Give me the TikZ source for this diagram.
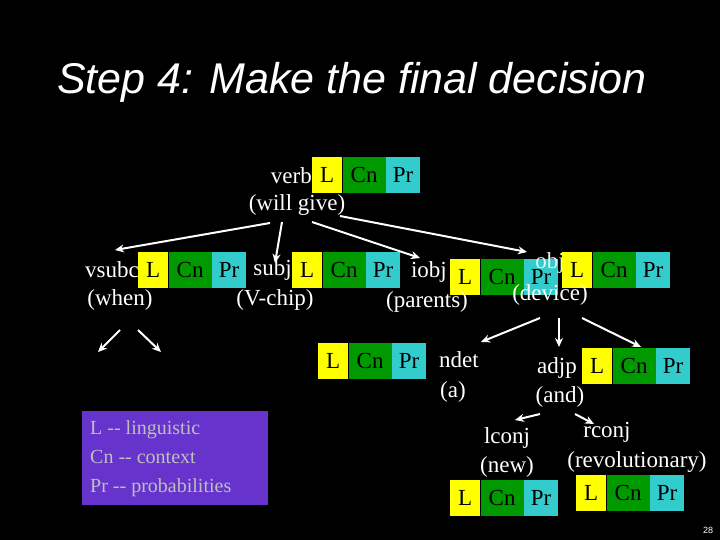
\documentclass[tikz,border=0pt]{standalone}
\usepackage{fontspec}
\setmainfont{Liberation Serif}
\newfontfamily\arialf{Liberation Sans}
\usetikzlibrary{arrows.meta}
\definecolor{cy}{HTML}{33CCCC}
\definecolor{gr}{HTML}{009900}
\definecolor{yl}{HTML}{FFFF00}
\definecolor{pu}{HTML}{6633CC}
\tikzset{
 tx/.style={text=white,font=\fontsize{23}{26}\selectfont,inner sep=0pt},
 cb/.style={font=\fontsize{23}{26}\selectfont,inner sep=0pt,minimum height=36pt,anchor=west,text=black},
 arr/.style={white,line width=2pt,-{Stealth[length=9pt,width=8pt]}},
}
\newcommand{\blk}[3]{%
 \node[cb,fill=yl,minimum width=30pt] (#1L) at (#2,#3) {L};
 \node[cb,fill=gr,minimum width=43pt] (#1C) at (#1L.east) {Cn};
 \node[cb,fill=cy,minimum width=34pt] (#1P) at (#1C.east) {Pr};}
\begin{document}
\begin{tikzpicture}[x=1pt,y=-1pt]
\fill[black] (0,0) rectangle (720,540);
\useasboundingbox (0,0) rectangle (720,540);
\node[text=white,font=\arialf\itshape\fontsize{43}{46}\selectfont,anchor=west,inner sep=0pt] (title) at (57,82) {Step 4: Make the final decision};
% verb
\node[tx,anchor=east] (verb) at (312,176) {verb};
\blk{v}{312}{175}
\node[tx] (wg) at (297,205) {(will give)};
% row 2
\node[tx,anchor=west] (vsubc) at (85,270) {vsubc};
\blk{a}{138}{270}
\node[tx] (when) at (120,300) {(when)};
\node[tx,anchor=east] (subj) at (292,270) {subj};
\blk{b}{292}{270}
\node[tx] (vchip) at (275,300) {(V-chip)};
\node[tx,anchor=east] (iobj) at (447,272) {iobj};
\blk{c}{450}{277}
\node[tx,text=white!85!cy] (obj) at (550,263) {obj};
\node[tx] (parents) at (427,302) {(parents)};
\blk{d}{562}{270}
\node[tx] (device) at (550,295) {(device)};
% row 3
\blk{e}{318}{361}
\node[tx,anchor=west] (ndet) at (439,360) {ndet};
\node[tx] (a) at (453,392) {(a)};
\node[tx,anchor=east] (adjp) at (577,368) {adjp};
\blk{f}{582}{366}
\node[tx] (and) at (560,397) {(and)};
\node[tx] (lconj) at (507,438) {lconj};
\node[tx] (new) at (507,467) {(new)};
\blk{g}{450}{498}
\node[tx] (rconj) at (607,432) {rconj};
\node[tx] (rev) at (637,462) {(revolutionary)};
\blk{h}{576}{493}
% legend
\node[fill=pu,minimum width=186pt,minimum height=94pt,inner sep=0pt,anchor=north west] (leg) at (82,411) {};
\node[text=lightgray,font=\fontsize{20}{29}\selectfont,align=left,anchor=north west,inner sep=0pt] (legt) at (90,420) {L -{}- linguistic\\Cn -{}- context\\Pr -{}- probabilities};
\node[text=white,font=\arialf\fontsize{9}{10}\selectfont] (pg) at (708,530) {28};
% arrows
\coordinate (p1) at (270,223); \coordinate (q1) at (115,250);
\coordinate (p2) at (282,222); \coordinate (q2) at (275,263);
\coordinate (p3) at (312,222); \coordinate (q3) at (420,258);
\coordinate (p4) at (340,216); \coordinate (q4) at (527,252);
\draw[arr] (p1) -- (q1); \draw[arr] (p2) -- (q2); \draw[arr] (p3) -- (q3); \draw[arr] (p4) -- (q4);
\coordinate (r1) at (540,318); \coordinate (s1) at (481,342);
\coordinate (r2) at (559,318); \coordinate (s2) at (559,347);
\coordinate (r3) at (582,318); \coordinate (s3) at (641,347);
\draw[arr] (r1) -- (s1); \draw[arr] (r2) -- (s2); \draw[arr] (r3) -- (s3);
\coordinate (t1) at (120,330); \coordinate (u1) at (98,352);
\coordinate (t2) at (138,330); \coordinate (u2) at (161,352);
\draw[arr] (t1) -- (u1); \draw[arr] (t2) -- (u2);
\coordinate (w1) at (540,414); \coordinate (z1) at (515,420);
\coordinate (w2) at (575,414); \coordinate (z2) at (594,424);
\draw[arr] (w1) -- (z1); \draw[arr] (w2) -- (z2);
\end{tikzpicture}
\end{document}
